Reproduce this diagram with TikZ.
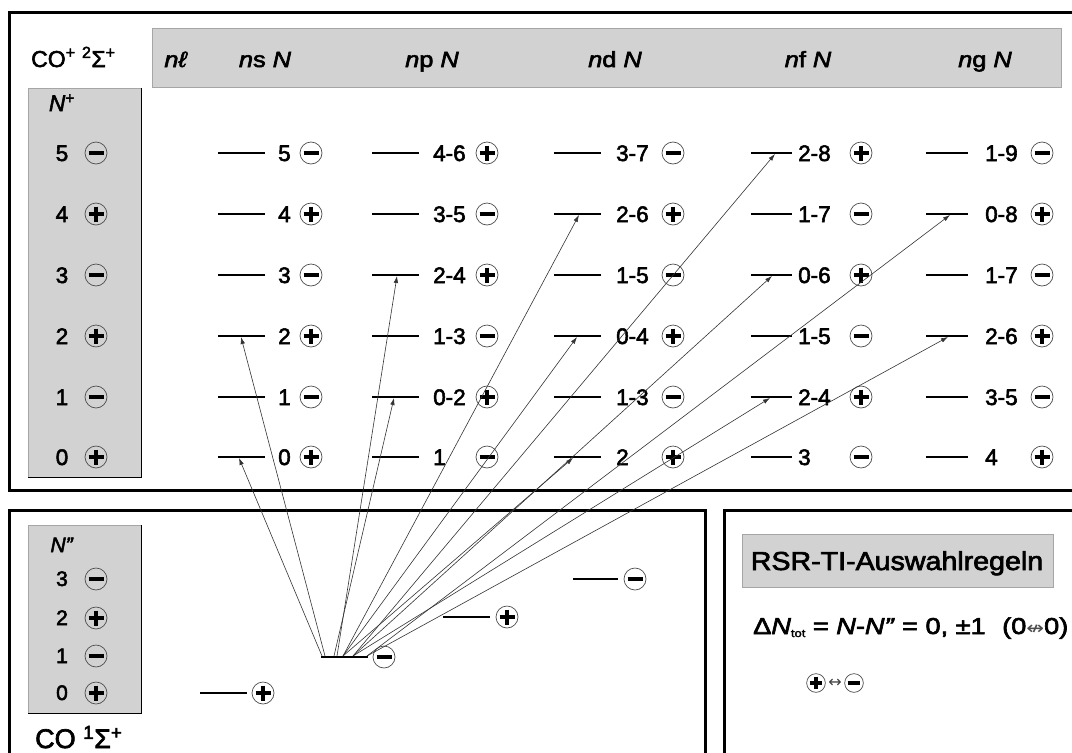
\documentclass[tikz,border=0pt]{standalone}
\usepackage{fontspec}
\setmainfont[FakeBold=2.5]{Liberation Sans}
\newfontfamily\dvs{DejaVu Sans}
\usetikzlibrary{arrows.meta}
\definecolor{shadegray}{RGB}{210,210,210}
\newcommand\labfont{\fontsize{22.5}{26}\selectfont}
\newcommand\hdfont{\fontsize{22}{26}\selectfont}
\newcommand\wide[1]{\scalebox{1.15}[1]{#1}}
\begin{document}
\begin{tikzpicture}[x=1pt,y=-1pt,
  frame/.style={line width=3pt},
  lvl/.style={line width=2pt},
  shadebox/.style={fill=shadegray, draw=gray!70, line width=0.7pt},
  lab/.style={font=\labfont, anchor=base west, inner sep=0pt},
  ctr/.style={font=\labfont, anchor=base, inner sep=0pt},
  hd/.style={font=\hdfont, anchor=base, inner sep=0pt},
  trans/.style={draw=black!80, line width=0.6pt, -{Latex[length=7pt,width=4.5pt]}},
  parplus/.pic={\draw[gray!60!black, line width=0.7pt] (0,0) circle[radius=11];
                \draw[line width=3.6pt] (-7.5,0) -- (7.5,0) (0,-7.5) -- (0,7.5);},
  parminus/.pic={\draw[gray!60!black, line width=0.7pt] (0,0) circle[radius=11];
                \draw[line width=3.6pt] (-7.5,0) -- (7.5,0);}
]
\useasboundingbox (0,0) rectangle (1072,753);
\clip (0,0) rectangle (1072,753);

% frames
\draw[frame] (1085,12) -- (9,12) -- (9,490) -- (1085,490);
\draw[frame] (705,765) -- (705,510) -- (9,510) -- (9,765);
\draw[frame] (1085,510) -- (724,510) -- (724,765);

% shaded boxes
\draw[shadebox] (152,28) rectangle (1061,87);
\draw[shadebox] (28,88) rectangle (141,477);
\draw[line width=1pt] (141,88) -- (141,477) -- (28,477);
\draw[shadebox] (28,525) rectangle (141,713);
\draw[line width=1pt] (141,525) -- (141,713) -- (28,713);
\draw[shadebox] (742,534) rectangle (1053,587);

% titles
\node[anchor=base west, inner sep=0pt, font=\fontsize{23}{26}\selectfont] (ionlab) at (31,67)
  {CO\textsuperscript{+} \textsuperscript{2}Σ\textsuperscript{+}};
\node[anchor=base west, inner sep=0pt, font=\fontsize{27}{30}\selectfont] (neutlab) at (35,748)
  {CO \textsuperscript{1}Σ\textsuperscript{+}};

% header
\node[hd] (h0) at (176,67) {\wide{\textit{nℓ}}};
\node[hd] (h1) at (265,67) {\wide{\textit{n}s \textit{N}}};
\node[hd] (h2) at (432,67) {\wide{\textit{n}p \textit{N}}};
\node[hd] (h3) at (615,67) {\wide{\textit{n}d \textit{N}}};
\node[hd] (h4) at (808,67) {\wide{\textit{n}f \textit{N}}};
\node[hd] (h5) at (985,67) {\wide{\textit{n}g \textit{N}}};

% N+ column
\node[ctr] (nplus) at (62,111) {\textit{N}\textsuperscript{+}};
\foreach \y/\n/\s in {153/5/minus,214/4/plus,275/3/minus,336/2/plus,397/1/minus,457/0/plus}{
  \node[ctr] (np-\n) at (62,\y+8) {\n};
  \pic at (96,\y) {par\s};
}

% upper levels
\foreach \y/\r/\la/\sa/\lb/\sb/\lc/\sc/\ld/\sd/\le/\se in {
  153/5/5/minus/4-6/plus/3-7/minus/2-8/plus/1-9/minus,
  214/4/4/plus/3-5/minus/2-6/plus/1-7/minus/0-8/plus,
  275/3/3/minus/2-4/plus/1-5/minus/0-6/plus/1-7/minus,
  336/2/2/plus/1-3/minus/0-4/plus/1-5/minus/2-6/plus,
  397/1/1/minus/0-2/plus/1-3/minus/2-4/plus/3-5/minus,
  457/0/0/plus/1/minus/2/plus/3/minus/4/plus}{
  \draw[lvl] (218,\y) -- (265,\y);
  \node[lab] (ns-\r) at (278,\y+8) {\la};
  \pic at (311,\y) {par\sa};
  \draw[lvl] (372,\y) -- (419,\y);
  \node[lab] (npl-\r) at (433,\y+8) {\lb};
  \pic at (487,\y) {par\sb};
  \draw[lvl] (554,\y) -- (601,\y);
  \node[lab] (nd-\r) at (616,\y+8) {\lc};
  \pic at (673,\y) {par\sc};
  \draw[lvl] (751,\y) -- (792,\y);
  \node[lab] (nf-\r) at (798,\y+8) {\ld};
  \pic at (861,\y) {par\sd};
  \draw[lvl] (926,\y) -- (968,\y);
  \node[lab] (ng-\r) at (985,\y+8) {\le};
  \pic at (1042,\y) {par\se};
}

% N'' column
\node[ctr, font=\fontsize{21}{24}\selectfont] (npp) at (62,552) {\textit{N”}};
\foreach \y/\n/\s in {579/3/minus,618/2/plus,656/1/minus,693/0/plus}{
  \node[ctr, font=\fontsize{21}{24}\selectfont] (nn-\n) at (62,\y+7) {\n};
  \pic at (96,\y) {par\s};
}

% ground levels
\draw[lvl] (200,693) -- (247,693); \pic at (263,693) {parplus};
\draw[lvl] (321,657) -- (368,657); \pic at (384,657) {parminus};
\draw[lvl] (443,617) -- (490,617); \pic at (507,617) {parplus};
\draw[lvl] (573,579) -- (618,579); \pic at (635,579) {parminus};

% start points
\coordinate (s1) at (322,656);
\coordinate (s2) at (325,656);
\coordinate (s3) at (334,656);
\coordinate (s4) at (337,656);
\coordinate (s5) at (343,656);
\coordinate (s6) at (353,656);
\coordinate (s7) at (367,656);
% targets
\coordinate (t-ns0) at (239,458);
\coordinate (t-ns2) at (241,337);
\coordinate (t-np1) at (394,398);
\coordinate (t-np3) at (397,276);
\coordinate (t-nd0) at (573,458);
\coordinate (t-nd2) at (577,337);
\coordinate (t-nd4) at (579,215);
\coordinate (t-nf1) at (770,398);
\coordinate (t-nf3) at (772,276);
\coordinate (t-nf5) at (775,154);
\coordinate (t-ng2) at (948,337);
\coordinate (t-ng4) at (950,215);

\draw[trans] (s1) -- (t-ns0);
\draw[trans] (s2) -- (t-ns2);
\draw[trans] (s3) -- (t-np1);
\draw[trans] (s4) -- (t-np3);
\draw[trans] (s5) -- (t-nd0);
\draw[trans] (s5) -- (t-nd2);
\draw[trans] (s5) -- (t-nd4);
\draw[trans] (s6) -- (t-nf1);
\draw[trans] (s6) -- (t-nf3);
\draw[trans] (s6) -- (t-nf5);
\draw[trans] (s7) -- (t-ng2);
\draw[trans] (s7) -- (t-ng4);

% rules box
\node[anchor=base, inner sep=0pt, font=\fontsize{26}{30}\selectfont] (rsr) at (897,570)
  {\scalebox{1.1}[1]{RSR-TI-Auswahlregeln}};
\node[anchor=base west, inner sep=0pt, font=\fontsize{23}{26}\selectfont] (rule1) at (753,634)
  {\scalebox{1.18}[1]{Δ\textit{N}\raisebox{-3pt}{\fontsize{11}{11}\selectfont tot} = \textit{N}-\textit{N”} = 0, ±1\hspace{14pt}(0{\dvs\fontsize{18}{18}\selectfont\color{black!70}↮}0)}};
\pic[scale=0.85] at (816,683) {parplus};
\node[inner sep=0pt, font=\dvs\fontsize{16}{16}\selectfont, text=black!75] (lr) at (835,683) {↔};
\pic[scale=0.85] at (854,683) {parminus};
\end{tikzpicture}
\end{document}
